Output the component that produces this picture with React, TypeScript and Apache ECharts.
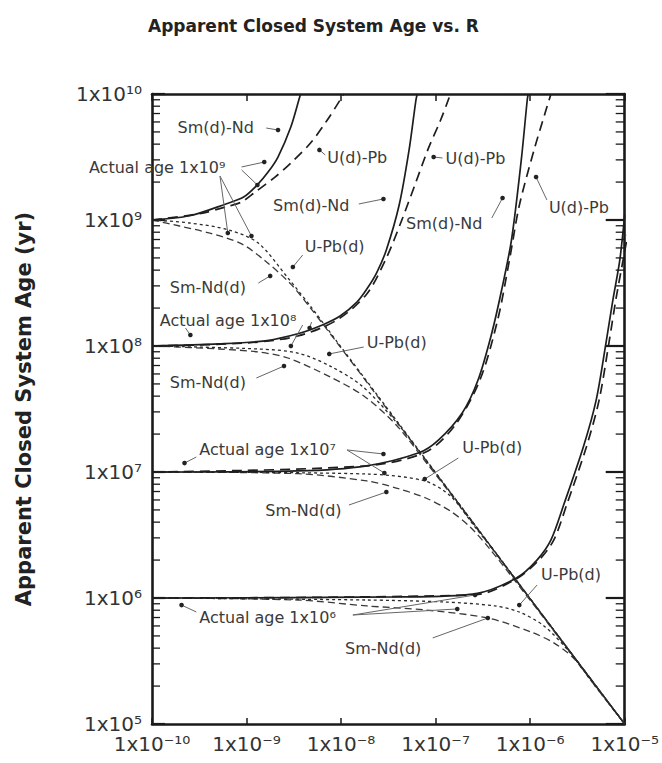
import React, { useEffect, useRef } from 'react';
import * as echarts from 'echarts';

const FONT = '"DejaVu Sans", "Noto Sans", sans-serif';
const X_MIN = 1e-10;
const X_MAX = 1e-5;
const Y_MIN = 1e5;
const Y_MAX = 1e10;

// ---- Curves: [R, apparent age (yr)] ----
// Parent loss, Sm(d)-Nd (solid)
const smdNd_1e9 = [[1e-10, 1e9], [2.49e-10, 1.08e9], [6.04e-10, 1.34e9], [9.31e-10, 1.52e9], [1.3e-9, 1.9e9], [1.69e-9, 2.4e9], [2.15e-9, 3.16e9], [2.94e-9, 5.47e9], [3.65e-9, 9.46e9], [3.74e-9, 1e10]];
const smdNd_1e8 = [[1e-10, 1e8], [5.11e-10, 1.04e8], [1.58e-9, 1.1e8], [3.48e-9, 1.25e8], [6.34e-9, 1.47e8], [9.77e-9, 1.73e8], [1.47e-8, 2.23e8], [1.87e-8, 2.83e8], [2.37e-8, 3.79e8], [3.01e-8, 5.78e8], [4.12e-8, 1.32e9], [5.24e-8, 3.6e9], [6.19e-8, 8.96e9], [6.4e-8, 1e10]];
const smdNd_1e7 = [[1e-10, 1e7], [3.48e-9, 1.02e7], [1.87e-8, 1.12e7], [6.65e-8, 1.42e7], [1.07e-7, 1.79e7], [1.91e-7, 2.94e7], [2.81e-7, 5.37e7], [3.93e-7, 1.27e8], [4.99e-7, 2.78e8], [6.34e-7, 6.93e8], [8.05e-7, 2.99e9], [9.31e-7, 8.96e9], [9.53e-7, 1e10]];
const smdNd_1e6 = [[1e-10, 1e6], [3.83e-8, 1.02e6], [2.61e-7, 1.08e6], [7.15e-7, 1.44e6], [1.18e-6, 2.0e6], [1.66e-6, 2.89e6], [2.26e-6, 5.47e6], [3.65e-6, 1.58e7], [4.99e-6, 3.72e7], [6.34e-6, 1.06e8], [7.5e-6, 2.32e8], [8.87e-6, 4.8e8], [1e-5, 1.1e9]];

// Parent loss, U(d)-Pb (long dash)
const udPb_1e9 = [[1e-10, 1e9], [3.16e-10, 1.12e9], [6.49e-10, 1.29e9], [8.87e-10, 1.39e9], [1.24e-9, 1.67e9], [2.0e-9, 2.19e9], [2.94e-9, 2.83e9], [4.75e-9, 4.08e9], [7.15e-9, 6.22e9], [9.77e-9, 8.96e9], [1.07e-8, 1e10]];
const udPb_1e8 = [[1e-10, 1e8], [1.05e-9, 1.06e8], [3.48e-9, 1.2e8], [9.08e-9, 1.61e8], [1.87e-8, 2.59e8], [3.01e-8, 4.99e8], [4.31e-8, 9.64e8], [6.19e-8, 2.0e9], [8.26e-8, 3.6e9], [1.13e-7, 6.22e9], [1.36e-7, 8.96e9], [1.43e-7, 1e10]];
const udPb_1e7 = [[1e-10, 1e7], [1.87e-8, 1.12e7], [7.87e-8, 1.44e7], [1.61e-7, 2.36e7], [2.94e-7, 5.37e7], [4.53e-7, 1.61e8], [6.04e-7, 4.82e8], [7.67e-7, 1.3e9], [1.1e-6, 3.6e9], [1.47e-6, 7.46e9], [1.66e-6, 1e10]];
const udPb_1e6 = [[1e-10, 1e6], [2.61e-7, 1.06e6], [7.15e-7, 1.42e6], [1.24e-6, 2.0e6], [1.78e-6, 2.89e6], [2.43e-6, 5.47e6], [3.93e-6, 1.58e7], [5.36e-6, 3.72e7], [6.81e-6, 1.06e8], [8.05e-6, 2.32e8], [9.53e-6, 4.64e8], [1.1e-5, 8.34e8]];

// Daughter loss, Sm-Nd(d) (dash)
const smNdd_1e9 = [[1e-10, 1e9], [1.96e-10, 8.96e8], [4.02e-10, 7.89e8], [8.87e-10, 6.46e8], [1.58e-9, 4.73e8], [2.94e-9, 3.1e8], [4.75e-9, 2.0e8], [9.08e-9, 1.06e8], [2.37e-8, 4.08e7], [1.27e-7, 7.74e6], [1.1e-6, 8.95e5], [1e-5, 1e5]];
const smNdd_1e8 = [[1e-10, 1e8], [5.11e-10, 9.47e7], [1.33e-9, 8.96e7], [2.74e-9, 8.03e7], [7.67e-9, 5.68e7], [1.74e-8, 4.01e7], [3.83e-8, 2.36e7], [7.87e-8, 1.2e7], [1.61e-7, 6.0e6], [1.1e-6, 8.95e5], [1e-5, 1e5]];
const smNdd_1e7 = [[1e-10, 1e7], [3.48e-9, 9.7e6], [1.87e-8, 8.49e6], [3.83e-8, 7.46e6], [7.87e-8, 6.22e6], [1.43e-7, 4.9e6], [2.32e-7, 3.66e6], [3.74e-7, 2.45e6], [6.81e-7, 1.39e6], [1.78e-6, 5.47e5], [1e-5, 1e5]];
const smNdd_1e6 = [[1e-10, 1e6], [3.48e-9, 9.64e5], [1.87e-8, 8.65e5], [7.87e-8, 8.03e5], [3.56e-7, 6.93e5], [1.02e-6, 5.37e5], [1.78e-6, 4.4e5], [2.87e-6, 3.34e5], [5.24e-6, 1.86e5], [1e-5, 1e5]];

// Daughter loss, U-Pb(d) (short dash)
const uPbd_1e9 = [[1e-10, 1e9], [2.49e-10, 9.47e8], [6.49e-10, 8.34e8], [1.33e-9, 6.56e8], [2.74e-9, 3.47e8], [4.99e-9, 1.97e8], [9.08e-9, 1.08e8], [2.37e-8, 4.16e7], [1.27e-7, 7.8e6], [1.1e-6, 9.0e5], [1e-5, 1e5]];
const uPbd_1e8 = [[1e-10, 1e8], [1.33e-9, 9.47e7], [3.48e-9, 8.79e7], [7.67e-9, 6.93e7], [1.66e-8, 4.82e7], [3.83e-8, 2.49e7], [7.87e-8, 1.24e7], [1.61e-7, 6.11e6], [1.1e-6, 9.0e5], [1e-5, 1e5]];
const uPbd_1e7 = [[1e-10, 1e7], [1.87e-8, 9.64e6], [7.67e-8, 8.49e6], [1.43e-7, 6.46e6], [2.61e-7, 3.66e6], [4.22e-7, 2.32e6], [6.81e-7, 1.44e6], [1.78e-6, 5.57e5], [1e-5, 1e5]];
const uPbd_1e6 = [[1e-10, 1e6], [1.87e-8, 9.64e5], [1.27e-7, 9.29e5], [4.22e-7, 8.65e5], [7.67e-7, 7.74e5], [1.4e-6, 6.0e5], [2.55e-6, 3.8e5], [4.12e-6, 2.36e5], [1e-5, 1e5]];

// ---- Axis ticks ----
const MINOR_MULTIPLIERS = [2, 3, 4, 5, 6, 7, 8, 9];
const MINOR_DECADES = [1e5, 1e6, 1e7, 1e8, 1e9];

// ---- Annotations (positions as [log10 R, log10 age]) ----
const annotationLabels = [
  { text: 'Sm(d)-Nd', at: [-9.729, 9.738] },
  { text: 'Actual age 1x10⁹', at: [-10.667, 9.413] },
  { text: 'U(d)-Pb', at: [-8.146, 9.5] },
  { text: 'Sm(d)-Nd', at: [-8.719, 9.119] },
  { text: 'U(d)-Pb', at: [-6.896, 9.492] },
  { text: 'Sm(d)-Nd', at: [-7.3125, 8.976] },
  { text: 'U(d)-Pb', at: [-5.802, 9.103] },
  { text: 'U-Pb(d)', at: [-8.385, 8.786] },
  { text: 'Sm-Nd(d)', at: [-9.8125, 8.468] },
  { text: 'Actual age 1x10⁸', at: [-9.917, 8.206] },
  { text: 'U-Pb(d)', at: [-7.729, 8.024] },
  { text: 'Sm-Nd(d)', at: [-9.8125, 7.714] },
  { text: 'Actual age 1x10⁷', at: [-9.5, 7.175] },
  { text: 'Sm-Nd(d)', at: [-8.802, 6.698] },
  { text: 'U-Pb(d)', at: [-6.719, 7.198] },
  { text: 'U-Pb(d)', at: [-5.885, 6.183] },
  { text: 'Actual age 1x10⁶', at: [-9.5, 5.849] },
  { text: 'Sm-Nd(d)', at: [-7.958, 5.603] },
];

const annotationLeaders = [
  { from: [-8.792, 9.73], to: [-8.667, 9.714] },
  { from: [-9.052, 9.421], to: [-8.8125, 9.46] },
  { from: [-9.052, 9.397], to: [-8.885, 9.278] },
  { from: [-9.281, 9.349], to: [-9.198, 8.897] },
  { from: [-9.281, 9.349], to: [-8.948, 8.873] },
  { from: [-8.167, 9.516], to: [-8.229, 9.556] },
  { from: [-7.8125, 9.127], to: [-7.552, 9.167] },
  { from: [-6.927, 9.492], to: [-7.021, 9.5] },
  { from: [-6.406, 9.016], to: [-6.292, 9.175] },
  { from: [-5.823, 9.159], to: [-5.9375, 9.341] },
  { from: [-8.406, 8.722], to: [-8.51, 8.627] },
  { from: [-8.875, 8.5], to: [-8.75, 8.556] },
  { from: [-9.646, 8.143], to: [-9.594, 8.087] },
  { from: [-8.406, 8.167], to: [-8.531, 8.0] },
  { from: [-8.3125, 8.19], to: [-8.333, 8.143] },
  { from: [-7.76, 7.992], to: [-8.125, 7.937] },
  { from: [-8.896, 7.746], to: [-8.604, 7.841] },
  { from: [-9.531, 7.119], to: [-9.656, 7.071] },
  { from: [-7.9375, 7.175], to: [-7.552, 7.143] },
  { from: [-7.9375, 7.175], to: [-7.542, 6.992] },
  { from: [-7.917, 6.738], to: [-7.521, 6.841] },
  { from: [-6.76, 7.111], to: [-7.115, 6.944] },
  { from: [-5.927, 6.103], to: [-6.115, 5.944] },
  { from: [-9.531, 5.889], to: [-9.6875, 5.944] },
  { from: [-7.875, 5.865], to: [-6.583, 6.024] },
  { from: [-7.875, 5.865], to: [-6.771, 5.913] },
  { from: [-7.031, 5.683], to: [-6.448, 5.841] },
];

const SUP: Record<string, string> = {
  '-': '⁻', '0': '⁰', '1': '¹', '2': '²', '3': '³', '4': '⁴',
  '5': '⁵', '6': '⁶', '7': '⁷', '8': '⁸', '9': '⁹',
};
const powLabel = (v: number) => {
  const e = Math.round(Math.log10(v));
  return '1x10' + String(e).split('').map((c) => SUP[c] || c).join('');
};

const STYLES: Record<string, any> = {
  smdNd: { type: 'solid', width: 1.7, color: '#1e1e1e' },
  udPb: { type: [10, 6], width: 1.7, color: '#1e1e1e' },
  smNdd: { type: [7, 4], width: 1.3, color: '#3a3a3a' },
  uPbd: { type: [3, 3], width: 1.3, color: '#2a2a2a' },
};

const curves: [string, string, number[][]][] = [
  ['smNdd', 'Sm-Nd(d) 1e9', smNdd_1e9],
  ['smNdd', 'Sm-Nd(d) 1e8', smNdd_1e8],
  ['smNdd', 'Sm-Nd(d) 1e7', smNdd_1e7],
  ['smNdd', 'Sm-Nd(d) 1e6', smNdd_1e6],
  ['uPbd', 'U-Pb(d) 1e9', uPbd_1e9],
  ['uPbd', 'U-Pb(d) 1e8', uPbd_1e8],
  ['uPbd', 'U-Pb(d) 1e7', uPbd_1e7],
  ['uPbd', 'U-Pb(d) 1e6', uPbd_1e6],
  ['udPb', 'U(d)-Pb 1e9', udPb_1e9],
  ['udPb', 'U(d)-Pb 1e8', udPb_1e8],
  ['udPb', 'U(d)-Pb 1e7', udPb_1e7],
  ['udPb', 'U(d)-Pb 1e6', udPb_1e6],
  ['smdNd', 'Sm(d)-Nd 1e9', smdNd_1e9],
  ['smdNd', 'Sm(d)-Nd 1e8', smdNd_1e8],
  ['smdNd', 'Sm(d)-Nd 1e7', smdNd_1e7],
  ['smdNd', 'Sm(d)-Nd 1e6', smdNd_1e6],
];

export default function App() {
  const ref = useRef<HTMLDivElement>(null);

  useEffect(() => {
    if (!ref.current) return;
    const chart = echarts.init(ref.current, undefined, { renderer: 'svg' });

    const minorValues: number[] = [];
    MINOR_DECADES.forEach((d) => MINOR_MULTIPLIERS.forEach((m) => minorValues.push(m * d)));

    const axisLine = { show: true, lineStyle: { color: '#1a1a1a', width: 2.6 } };
    const labelStyle = { fontSize: 20, color: '#333', fontFamily: FONT };

    const lineSeries = curves.map(([kind, name, data]) => ({
      type: 'line',
      name,
      data,
      showSymbol: false,
      symbol: 'none',
      smooth: 0.3,
      clip: true,
      lineStyle: STYLES[kind],
      silent: true,
      z: 3,
    }));

    const option: any = {
      animation: false,
      backgroundColor: '#ffffff',
      title: {
        text: 'Apparent Closed System Age vs. R',
        left: 143,
        top: 12,
        textStyle: { fontSize: 17, fontWeight: 'bold', color: '#222', fontFamily: FONT },
      },
      grid: { left: 152, right: 30, top: 94, bottom: 39 },
      xAxis: [
        {
          type: 'log', logBase: 10, min: X_MIN, max: X_MAX, splitNumber: 5, position: 'bottom',
          axisLine,
          axisTick: { show: true, inside: true, length: 6, lineStyle: { color: '#1a1a1a', width: 1.5 } },
          axisLabel: { ...labelStyle, margin: 10, formatter: powLabel, showMinLabel: true, showMaxLabel: true },
          splitLine: { show: false },
        },
        {
          type: 'log', logBase: 10, min: X_MIN, max: X_MAX, splitNumber: 5, position: 'top',
          axisLine,
          axisTick: { show: true, inside: true, length: 7, lineStyle: { color: '#1a1a1a', width: 1.5 } },
          axisLabel: { show: false },
          splitLine: { show: false },
        },
      ],
      yAxis: [
        {
          type: 'log', logBase: 10, min: Y_MIN, max: Y_MAX, splitNumber: 5, position: 'left',
          name: 'Apparent Closed System Age (yr)',
          nameLocation: 'middle',
          nameRotate: 90,
          nameGap: 118,
          nameTextStyle: { fontSize: 21, fontWeight: 'bold', color: '#222', fontFamily: FONT },
          axisLine,
          axisTick: { show: true, inside: true, length: 13, lineStyle: { color: '#1a1a1a', width: 2.2 } },
          axisLabel: { ...labelStyle, margin: 10, formatter: powLabel, showMinLabel: true, showMaxLabel: true },
          splitLine: { show: false },
        },
        {
          type: 'log', logBase: 10, min: Y_MIN, max: Y_MAX, splitNumber: 5, position: 'right',
          axisLine,
          axisTick: { show: true, inside: true, length: 19, lineStyle: { color: '#1a1a1a', width: 2.2 } },
          axisLabel: { show: false },
          splitLine: { show: false },
        },
      ],
      series: [
        ...lineSeries,
        {
          type: 'custom',
          name: 'minor ticks',
          silent: true,
          z: 4,
          data: minorValues.map((v) => [X_MIN, v]),
          renderItem: (_p: any, api: any) => {
            const v = api.value(1);
            const l = api.coord([X_MIN, v]);
            const r = api.coord([X_MAX, v]);
            return {
              type: 'group',
              children: [
                { type: 'line', shape: { x1: l[0], y1: l[1], x2: l[0] + 8, y2: l[1] }, style: { stroke: '#1a1a1a', lineWidth: 1.3 } },
                { type: 'line', shape: { x1: r[0] - 9, y1: r[1], x2: r[0], y2: r[1] }, style: { stroke: '#1a1a1a', lineWidth: 1.3 } },
              ],
            };
          },
        },
        {
          type: 'custom',
          name: 'leaders',
          silent: true,
          z: 5,
          clip: false,
          data: annotationLeaders.map((a) => [10 ** a.from[0], 10 ** a.from[1], 10 ** a.to[0], 10 ** a.to[1]]),
          encode: { x: [0, 2], y: [1, 3] },
          renderItem: (_p: any, api: any) => {
            const a = api.coord([api.value(0), api.value(1)]);
            const b = api.coord([api.value(2), api.value(3)]);
            return {
              type: 'group',
              children: [
                { type: 'line', shape: { x1: a[0], y1: a[1], x2: b[0], y2: b[1] }, style: { stroke: '#666', lineWidth: 1 } },
                { type: 'circle', shape: { cx: b[0], cy: b[1], r: 2.3 }, style: { fill: '#222' } },
              ],
            };
          },
        },
        {
          type: 'custom',
          name: 'labels',
          silent: true,
          z: 6,
          clip: false,
          data: annotationLabels.map((a) => [10 ** a.at[0], 10 ** a.at[1]]),
          renderItem: (p: any, api: any) => {
            const a = annotationLabels[p.dataIndex];
            const pt = api.coord([api.value(0), api.value(1)]);
            return {
              type: 'text',
              x: pt[0],
              y: pt[1],
              style: {
                text: a.text,
                fill: '#3a3a3a',
                fontSize: 16,
                fontFamily: FONT,
                align: 'left',
                verticalAlign: 'middle',
              },
            };
          },
        },
      ],
    };

    chart.setOption(option);
    return () => chart.dispose();
  }, []);

  return (
    <div
      ref={ref}
      style={{ position: 'fixed', left: 0, top: 0, width: 662, height: 763, background: '#fff' }}
    />
  );
}
